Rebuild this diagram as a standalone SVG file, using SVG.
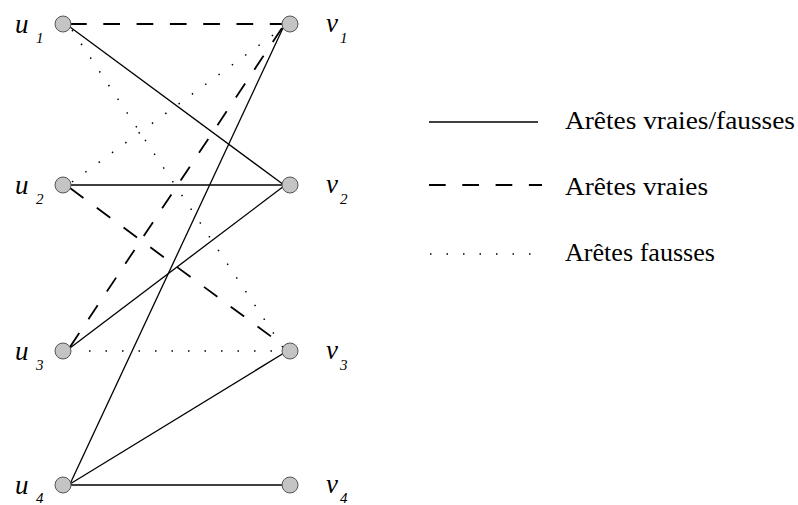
<svg xmlns="http://www.w3.org/2000/svg" width="798" height="505" viewBox="0 0 798 505">
<rect width="798" height="505" fill="#fff"/>
<g id="connectors" fill="none" stroke="#000">
<g stroke-width="1.3">
<line x1="70" y1="27" x2="284" y2="185"/>
<line x1="70" y1="185" x2="284" y2="185"/>
<line x1="70" y1="348" x2="284" y2="186"/>
<line x1="70" y1="484" x2="283" y2="28"/>
<line x1="70" y1="484" x2="284" y2="353"/>
<line x1="70" y1="485" x2="283" y2="485"/>
</g>
<g stroke-width="1.8" stroke-dasharray="16.7 16.6">
<line x1="70" y1="24" x2="282" y2="24"/>
<line x1="70" y1="188" x2="284" y2="346"/>
<line x1="70" y1="347" x2="282" y2="28"/>
</g>
<g stroke-width="1.5" stroke-dasharray="1.5 15">
<line x1="72" y1="30" x2="284" y2="349"/>
<line x1="72" y1="182" x2="284" y2="27"/>
<line x1="89" y1="351" x2="284" y2="351"/>
</g>
</g>
<g fill="#c4c4c4" stroke="#555" stroke-width="1">
<g id="u1"><circle cx="63" cy="24" r="8"/><text stroke="none" fill="#000" font-family="Liberation Serif" font-style="italic" font-size="27" x="15" y="32.5">u</text><text stroke="none" fill="#000" font-family="Liberation Serif" font-style="italic" font-size="15" x="36" y="43">1</text></g>
<g id="u2"><circle cx="63" cy="185" r="8"/><text stroke="none" fill="#000" font-family="Liberation Serif" font-style="italic" font-size="27" x="15" y="193.5">u</text><text stroke="none" fill="#000" font-family="Liberation Serif" font-style="italic" font-size="15" x="36" y="204">2</text></g>
<g id="u3"><circle cx="63" cy="351" r="8"/><text stroke="none" fill="#000" font-family="Liberation Serif" font-style="italic" font-size="27" x="15" y="359.5">u</text><text stroke="none" fill="#000" font-family="Liberation Serif" font-style="italic" font-size="15" x="36" y="370">3</text></g>
<g id="u4"><circle cx="63" cy="485" r="8"/><text stroke="none" fill="#000" font-family="Liberation Serif" font-style="italic" font-size="27" x="15" y="493.5">u</text><text stroke="none" fill="#000" font-family="Liberation Serif" font-style="italic" font-size="15" x="36" y="503">4</text></g>
<g id="v1"><circle cx="290" cy="24" r="8"/><text stroke="none" fill="#000" font-family="Liberation Serif" font-style="italic" font-size="27" x="326" y="31.5">v</text><text stroke="none" fill="#000" font-family="Liberation Serif" font-style="italic" font-size="15" x="340" y="43">1</text></g>
<g id="v2"><circle cx="290" cy="185" r="8"/><text stroke="none" fill="#000" font-family="Liberation Serif" font-style="italic" font-size="27" x="326" y="192.5">v</text><text stroke="none" fill="#000" font-family="Liberation Serif" font-style="italic" font-size="15" x="340" y="204">2</text></g>
<g id="v3"><circle cx="290" cy="351" r="8"/><text stroke="none" fill="#000" font-family="Liberation Serif" font-style="italic" font-size="27" x="326" y="358.5">v</text><text stroke="none" fill="#000" font-family="Liberation Serif" font-style="italic" font-size="15" x="340" y="370">3</text></g>
<g id="v4"><circle cx="290" cy="485" r="8"/><text stroke="none" fill="#000" font-family="Liberation Serif" font-style="italic" font-size="27" x="326" y="492.5">v</text><text stroke="none" fill="#000" font-family="Liberation Serif" font-style="italic" font-size="15" x="340" y="503">4</text></g>
</g>
<g id="legend" fill="none" stroke="#000">
<line stroke-width="1.3" x1="429" y1="122" x2="538" y2="122"/>
<line stroke-width="1.8" stroke-dasharray="16.7 16.6" x1="429" y1="185" x2="542" y2="185"/>
<line stroke-width="1.5" stroke-dasharray="1.5 15" x1="430" y1="254" x2="532" y2="254"/>
<g stroke="none" fill="#000" font-family="Liberation Serif" font-size="25">
<text x="565" y="128.5" textLength="230" lengthAdjust="spacingAndGlyphs">Arêtes vraies/fausses</text>
<text x="565" y="194.5" textLength="143" lengthAdjust="spacingAndGlyphs">Arêtes vraies</text>
<text x="565" y="260.5" textLength="150" lengthAdjust="spacingAndGlyphs">Arêtes fausses</text>
</g>
</g>
</svg>
